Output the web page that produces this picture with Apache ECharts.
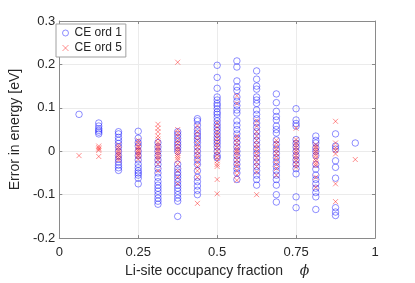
<!DOCTYPE html>
<html>
<head>
<meta charset="utf-8">
<script src="https://cdn.jsdelivr.net/npm/echarts@6/dist/echarts.min.js"></script>
<style>html,body{margin:0;padding:0;background:#fff}#c{width:415px;height:283px}</style>
</head>
<body>
<div id="c"></div>
<script>
// occupancy fractions (k/16)
var phiValues = [0.0625, 0.125, 0.1875, 0.25, 0.3125, 0.375, 0.4375, 0.5, 0.5625, 0.625, 0.6875, 0.75, 0.8125, 0.875, 0.9375];
var xTicks = [0, 0.25, 0.5, 0.75, 1];
var yTicks = [-0.2, -0.1, 0, 0.1, 0.2, 0.3];
var seriesNames = ['CE ord 1', 'CE ord 5'];

// CE ord 1 errors per occupancy column
var ord1Errors = [
  [0.085],
  [0.065, 0.058, 0.052, 0.048, 0.044, 0.04],
  [0.045, 0.04, 0.032, 0.025, 0.018, 0.01, 0.0, -0.01, -0.018, -0.025, -0.032, -0.038, -0.044],
  [0.046, 0.03, 0.02, 0.012, 0.0, -0.01, -0.02, -0.03, -0.038, -0.045, -0.05, -0.055, -0.062, -0.075],
  [0.02, 0.01, 0.0, -0.01, -0.02, -0.03, -0.04, -0.05, -0.06, -0.07, -0.078, -0.085, -0.092, -0.1, -0.108, -0.115, -0.122],
  [0.045, 0.038, 0.03, 0.022, 0.015, 0.008, 0.0, -0.03, -0.04, -0.048, -0.055, -0.062, -0.07, -0.078, -0.085, -0.092, -0.1, -0.108, -0.115, -0.15],
  [0.075, 0.07, 0.06, 0.05, 0.042, 0.035, 0.028, 0.02, 0.01, 0.0, -0.01, -0.02, -0.03, -0.045, -0.06, -0.07, -0.08, -0.09, -0.1],
  [0.198, 0.17, 0.145, 0.125, 0.118, 0.11, 0.105, 0.098, 0.09, 0.085, 0.078, 0.07, 0.062, 0.055, 0.048, 0.04, 0.032, 0.025, 0.018, 0.01, 0.0, -0.01, -0.015],
  [0.208, 0.194, 0.162, 0.148, 0.14, 0.125, 0.115, 0.105, 0.095, 0.088, 0.07, 0.06, 0.05, 0.04, 0.03, 0.02, 0.01, 0.0, -0.01, -0.02, -0.03, -0.04, -0.05, -0.065],
  [0.185, 0.166, 0.15, 0.143, 0.125, 0.118, 0.11, 0.095, 0.085, 0.075, 0.065, 0.055, 0.045, 0.035, 0.025, 0.015, 0.005, -0.005, -0.015, -0.025, -0.035, -0.045, -0.055, -0.065, -0.078],
  [0.132, 0.112, 0.092, 0.08, 0.072, 0.058, 0.05, 0.042, 0.026, 0.015, 0.005, -0.005, -0.015, -0.025, -0.035, -0.045, -0.055, -0.065, -0.078, -0.1, -0.117],
  [0.098, 0.072, 0.064, 0.058, 0.027, 0.018, 0.01, 0.0, -0.01, -0.02, -0.03, -0.04, -0.052, -0.105, -0.13],
  [0.035, 0.025, 0.019, 0.008, 0.0, -0.01, -0.03, -0.041, -0.055, -0.065, -0.075, -0.085, -0.095, -0.105, -0.134],
  [0.04, 0.012, 0.005, -0.022, -0.037, -0.062, -0.13, -0.14, -0.148],
  [0.019]
];

// CE ord 5 errors per occupancy column
var ord5Errors = [
  [-0.01],
  [0.012, 0.008, 0.005, 0.002, -0.012],
  [0.014, 0.008, 0.003, -0.002, -0.006, -0.01, -0.015, -0.02],
  [0.025, 0.018, 0.012, 0.008, 0.004, 0.0, -0.004, -0.008, -0.012, -0.018],
  [0.062, 0.053, 0.045, 0.035, 0.028, 0.02, 0.015, 0.01, 0.005, 0.0, -0.005, -0.01, -0.015, -0.02, -0.03, -0.045],
  [0.205, 0.05, 0.042, 0.035, 0.025, 0.018, 0.01, 0.005, 0.0, -0.005, -0.01, -0.015, -0.02, -0.03, -0.045, -0.06, -0.075],
  [0.058, 0.045, 0.035, 0.025, 0.015, 0.008, 0.0, -0.008, -0.015, -0.025, -0.035, -0.045, -0.06, -0.12],
  [0.065, 0.055, 0.045, 0.038, 0.03, 0.022, 0.015, 0.008, 0.0, -0.008, -0.015, -0.022, -0.03, -0.035, -0.065, -0.098],
  [0.128, 0.11, 0.035, 0.028, 0.02, 0.012, 0.005, 0.0, -0.005, -0.012, -0.02, -0.028, -0.035, -0.045, -0.055, -0.067],
  [0.07, 0.058, 0.045, 0.035, 0.025, 0.015, 0.008, 0.0, -0.008, -0.015, -0.025, -0.035, -0.048, -0.1],
  [0.025, 0.018, 0.01, 0.003, -0.005, -0.012, -0.02, -0.03, -0.04, -0.055],
  [0.053, 0.027, 0.02, 0.014, 0.008, 0.002, -0.004, -0.01, -0.016, -0.022, -0.03, -0.037],
  [0.015, 0.01, 0.005, 0.0, -0.005, -0.01, -0.016, -0.022, -0.028, -0.033, -0.06, -0.083],
  [0.069, 0.019, 0.008, 0.002, -0.006, -0.075, -0.116],
  [-0.019]
];

function toPoints(cols) {
  var pts = [];
  cols.forEach(function (col, i) {
    col.forEach(function (v) { pts.push([phiValues[i], v]); });
  });
  return pts;
}

var textColor = '#262626';
var axisColor = '#8a8a8a';
var gridColor = '#ebebeb';
var font = 'Liberation Sans, Arial, Helvetica, sans-serif';

var chart = echarts.init(document.getElementById('c'), null, {renderer: 'canvas'});
chart.setOption({
  animation: false,
  backgroundColor: '#fff',
  textStyle: {fontFamily: font},
  grid: {left: 54, right: 40, top: 21, bottom: 41, containLabel: false},
  legend: {
    left: 56, top: 24, orient: 'vertical',
    padding: [3, 4, 3, 6], itemGap: 3, itemWidth: 6, itemHeight: 6,
    borderColor: '#a0a0a0', borderWidth: 1, backgroundColor: '#fff',
    itemStyle: {borderWidth: 1},
    textStyle: {fontSize: 12, color: textColor, fontFamily: font, padding: [0, 0, 0, 1]},
    data: seriesNames
  },
  xAxis: [{
    type: 'value', min: 0, max: 1, interval: 0.25,
    name: '{a|Li-site occupancy fraction}     {b|ϕ}',
    nameLocation: 'middle', nameGap: 23,
    nameTextStyle: {rich: {a: {fontSize: 14, color: textColor, fontFamily: font}, b: {fontSize: 14, color: textColor, fontStyle: 'italic', fontFamily: 'DejaVu Serif, serif'}}},
    axisLine: {show: true, onZero: false, lineStyle: {color: axisColor, width: 1}},
    axisTick: {show: true, inside: true, length: 3, lineStyle: {color: axisColor}},
    axisLabel: {fontSize: 13, color: textColor, margin: 8, formatter: function (v) { return String(v); }},
    splitLine: {show: true, lineStyle: {color: gridColor, width: 1}}
  }, {
    type: 'value', min: 0, max: 1, interval: 0.25, position: 'top',
    axisLine: {show: true, onZero: false, lineStyle: {color: axisColor, width: 1}},
    axisTick: {show: true, inside: true, length: 3, lineStyle: {color: axisColor}},
    axisLabel: {show: false}, splitLine: {show: false}
  }],
  yAxis: [{
    type: 'value', min: -0.2, max: 0.3, interval: 0.1,
    name: 'Error in energy [eV]', nameLocation: 'middle', nameGap: 33,
    nameTextStyle: {fontSize: 14, color: textColor, fontFamily: font},
    axisLine: {show: true, onZero: false, lineStyle: {color: axisColor, width: 1}},
    axisTick: {show: true, inside: true, length: 3, lineStyle: {color: axisColor}},
    axisLabel: {fontSize: 13, color: textColor, margin: 4, formatter: function (v) { return String(Math.round(v * 10) / 10); }},
    splitLine: {show: true, lineStyle: {color: gridColor, width: 1}}
  }, {
    type: 'value', min: -0.2, max: 0.3, interval: 0.1, position: 'right',
    axisLine: {show: true, onZero: false, lineStyle: {color: axisColor, width: 1}},
    axisTick: {show: true, inside: true, length: 3, lineStyle: {color: axisColor}},
    axisLabel: {show: false}, splitLine: {show: false}
  }],
  series: [{
    name: seriesNames[0], type: 'scatter', xAxisIndex: 0, yAxisIndex: 0,
    symbol: 'circle', symbolSize: 6.5,
    itemStyle: {color: 'rgba(0,0,0,0)', borderColor: 'rgba(0,0,255,0.55)', borderWidth: 1},
    data: toPoints(ord1Errors)
  }, {
    name: seriesNames[1], type: 'scatter', xAxisIndex: 0, yAxisIndex: 0,
    symbol: 'path://M0,0L10,10M10,0L0,10', symbolSize: 5,
    itemStyle: {color: 'rgba(0,0,0,0)', borderColor: 'rgba(255,0,0,0.55)', borderWidth: 1},
    data: toPoints(ord5Errors)
  }]
});
</script>
</body>
</html>
